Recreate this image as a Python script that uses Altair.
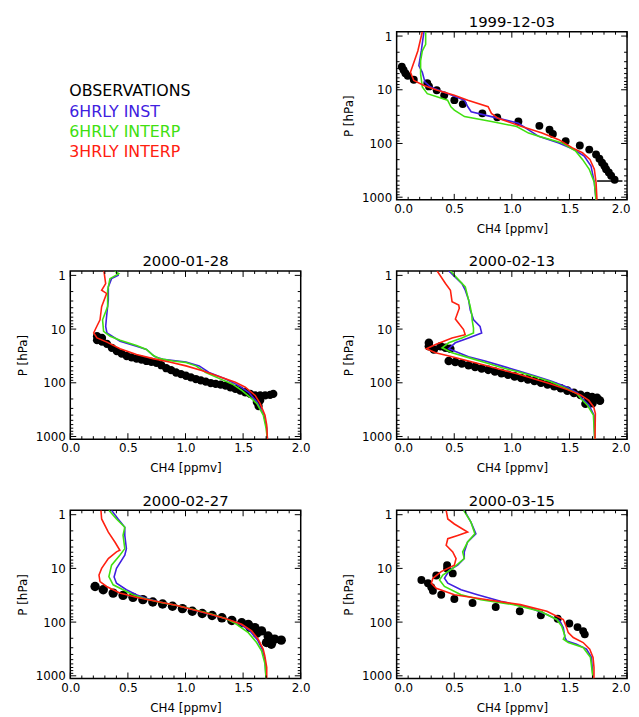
import altair as alt
import pandas as pd

W, H = 233, 170
FONT = "DejaVu Sans"
P_DOMAIN = [0.83, 1120]
X_DOMAIN = [0, 2]
X_MAJOR = [0.0, 0.5, 1.0, 1.5, 2.0]
X_MINOR = [0.1, 0.2, 0.3, 0.4, 0.6, 0.7, 0.8, 0.9, 1.1, 1.2, 1.3, 1.4, 1.6, 1.7, 1.8, 1.9]
Y_MAJOR = [1, 10, 100, 1000]
Y_MINOR = [2, 3, 4, 5, 6, 7, 8, 9, 20, 30, 40, 50, 60, 70, 80, 90,
           200, 300, 400, 500, 600, 700, 800, 900]

TITLES = ["1999-12-03", "2000-01-28", "2000-02-13", "2000-02-27", "2000-03-15"]
LEGEND_LABELS = ["OBSERVATIONS", "6HRLY INST", "6HRLY INTERP", "3HRLY INTERP"]
LEGEND_COLORS = ["#000000", "#4020E0", "#40E010", "#FF2010"]
C_INST, C_I6, C_I3 = "#4020E0", "#40E010", "#FF2010"

# ---------------- panel 1 : 1999-12-03 ----------------
P1_INST_X = [0.237, 0.214, 0.193, 0.223, 0.246, 0.296, 0.442, 0.589, 0.618, 0.647, 0.823, 1.057, 1.145, 1.233, 1.408, 1.540, 1.628, 1.687, 1.716, 1.731]
P1_INST_P = [0.83, 1.89, 3.56, 4.72, 7.20, 8.90, 11.8, 15.6, 20.7, 25.6, 31.6, 42.0, 55.6, 73.7, 97.8, 130, 172, 262, 531, 1120]
P1_I6_X = [0.252, 0.252, 0.223, 0.208, 0.208, 0.223, 0.266, 0.442, 0.471, 0.501, 0.589, 0.823, 1.042, 1.145, 1.233, 1.438, 1.555, 1.613, 1.672, 1.716, 1.731]
P1_I6_P = [0.83, 1.42, 1.89, 2.88, 5.06, 8.90, 11.8, 15.6, 20.7, 23.9, 31.6, 39.1, 48.3, 64.0, 73.7, 97.8, 139, 198, 302, 531, 1120]
P1_I3_X = [0.223, 0.184, 0.135, 0.120, 0.149, 0.237, 0.354, 0.501, 0.618, 0.794, 0.823, 0.881, 1.086, 1.262, 1.408, 1.526, 1.613, 1.678, 1.716, 1.731, 1.739]
P1_I3_P = [0.83, 1.89, 3.82, 4.72, 6.71, 8.29, 10.2, 12.7, 15.6, 20.7, 27.5, 34.0, 48.3, 64.0, 84.9, 121, 149, 198, 302, 531, 1120]
P1_OBS_X = [0.045, 0.060, 0.076, 0.097, 0.149, 0.266, 0.281, 0.348, 0.413, 0.501, 0.574, 0.744, 0.873, 1.057, 1.239, 1.327, 1.356, 1.467, 1.590, 1.672, 1.731, 1.760, 1.783, 1.804, 1.818, 1.842, 1.862, 1.892]
P1_OBS_P = [3.71, 4.27, 4.92, 5.51, 6.52, 7.51, 8.65, 10.2, 12.7, 15.6, 18.5, 27.5, 32.6, 39.1, 47.0, 55.6, 66.8, 91.1, 109, 130, 160, 192, 228, 262, 302, 348, 400, 474]
P1_BAR_X1 = [1.74]
P1_BAR_X2 = [1.96]
P1_BAR_P = [500]

# ---------------- panel 2 : 2000-01-28 ----------------
P2_INST_X = [0.401, 0.415, 0.358, 0.330, 0.330, 0.315, 0.307, 0.318, 0.432, 0.575, 0.661, 0.732, 0.804, 1.004, 1.119, 1.204, 1.348, 1.462, 1.548, 1.620, 1.680, 1.705, 1.711]
P2_INST_P = [0.83, 1.0, 1.15, 1.64, 2.88, 5.83, 8.90, 11.8, 16.8, 20.8, 23.9, 32.6, 36.5, 40.9, 48.4, 64.2, 85.1, 113, 150, 228, 400, 700, 1120]
P2_I6_X = [0.387, 0.421, 0.344, 0.324, 0.324, 0.280, 0.289, 0.346, 0.432, 0.575, 0.661, 0.718, 0.775, 0.890, 1.004, 1.090, 1.176, 1.290, 1.405, 1.491, 1.577, 1.620, 1.675, 1.699, 1.711]
P2_I6_P = [0.83, 0.93, 1.15, 1.89, 3.82, 6.7, 11.0, 13.6, 16.1, 20.2, 23.9, 30.8, 35.5, 39.2, 42.0, 48.4, 64.2, 82.7, 105, 140, 199, 245, 400, 700, 1120]
P2_I3_X = [0.292, 0.307, 0.272, 0.315, 0.272, 0.258, 0.223, 0.203, 0.232, 0.318, 0.432, 0.575, 0.718, 0.861, 1.004, 1.148, 1.290, 1.433, 1.519, 1.605, 1.648, 1.690, 1.705, 1.711]
P2_I3_P = [0.83, 1.42, 1.89, 2.17, 3.82, 6.71, 9.55, 11.8, 14.6, 17.5, 23.2, 29.6, 35.5, 40.9, 48.4, 59.8, 76.0, 98.0, 121, 172, 245, 400, 611, 1120]
P2_OBS_X = [0.232, 0.275, 0.318, 0.360, 0.403, 0.446, 0.489, 0.532, 0.575, 0.618, 0.661, 0.704, 0.747, 0.790, 0.833,
            0.875, 0.918, 0.961, 1.004, 1.047, 1.090, 1.133, 1.176, 1.219, 1.262, 1.305, 1.348, 1.390, 1.433, 1.476,
            1.519, 1.562, 1.605, 1.648, 1.691, 1.734, 1.762, 1.634, 1.648, 1.619, 1.634, 0.232, 0.275]
P2_OBS_P = [16.1, 17.1, 18.8, 22.3, 25.7, 28.7, 31.7, 33.6, 35.5, 37.0, 39.2, 40.9, 42.6, 47.1, 53.5,
            58.2, 64.3, 68.9, 73.9, 79.3, 85.1, 90.1, 95.3, 101, 105, 108, 113, 121, 130, 140,
            150, 161, 172, 172, 172, 168, 161, 204, 213, 228, 271, 13.6, 14.6]

# ---------------- panel 3 : 2000-02-13 ----------------
P3_INST_X = [0.453, 0.567, 0.596, 0.625, 0.639, 0.668, 0.724, 0.738, 0.624, 0.509, 0.452, 0.538, 0.624, 0.767, 0.910, 1.053, 1.196, 1.339, 1.482, 1.568, 1.613, 1.670, 1.713, 1.719]
P3_INST_P = [0.83, 1.42, 1.89, 2.88, 4.40, 6.71, 8.9, 11.8, 14.6, 18.0, 23.2, 27.5, 32.6, 39.2, 48.4, 59.8, 73.9, 92.6, 121, 154, 198, 262, 400, 1120]
P3_I6_X = [0.467, 0.596, 0.639, 0.653, 0.655, 0.667, 0.667, 0.566, 0.452, 0.395, 0.481, 0.624, 0.767, 0.910, 1.053, 1.196, 1.339, 1.482, 1.568, 1.600, 1.656, 1.708, 1.719]
P3_I6_P = [0.83, 1.64, 3.82, 5.43, 6.7, 9.55, 11.8, 14.6, 18.0, 22.3, 27.5, 34.0, 42.1, 52.0, 62.4, 76.0, 95.3, 130, 161, 198, 262, 400, 1120]
P3_I3_X = [0.352, 0.424, 0.467, 0.481, 0.539, 0.544, 0.510, 0.581, 0.595, 0.481, 0.338, 0.258, 0.338, 0.481, 0.624, 0.767, 0.910, 1.053, 1.196, 1.339, 1.482, 1.596, 1.668, 1.711, 1.725, 1.722]
P3_I3_P = [0.83, 1.42, 1.89, 3.09, 3.56, 4.10, 6.5, 10.2, 12.7, 14.6, 19.4, 23.2, 27.5, 32.6, 39.2, 47.1, 57.4, 68.9, 85.1, 105, 134, 168, 213, 282, 374, 1120]
P3_OBS_X = [0.280, 0.323, 0.381, 0.424, 0.466, 0.280,
            0.452, 0.509, 0.566, 0.624, 0.681, 0.738, 0.795, 0.853, 0.910, 0.967, 1.024, 1.081, 1.139, 1.196,
            1.253, 1.310, 1.368, 1.425, 1.482, 1.539, 1.596, 1.654, 1.697, 1.639, 1.740, 1.765, 1.700]
P3_OBS_P = [20.8, 23.9, 20.8, 22.3, 23.2, 18.0,
            39.2, 40.9, 43.8, 47.1, 50.5, 54.2, 57.4, 61.5, 66.1, 70.8, 76.0, 81.6, 86.3, 92.6,
            99.4, 107, 116, 126, 140, 154, 168, 177, 185, 245, 190, 215, 240]

# ---------------- panel 4 : 2000-02-27 ----------------
P4_INST_X = [0.358, 0.415, 0.473, 0.473, 0.487, 0.473, 0.401, 0.380, 0.401, 0.487, 0.573, 0.650, 0.773, 0.916, 1.059, 1.202, 1.345, 1.470, 1.560, 1.625, 1.665, 1.690, 1.699]
P4_INST_P = [0.83, 1.20, 1.71, 2.43, 4.28, 5.69, 10.0, 14.5, 18.9, 25.0, 30.9, 35.6, 42.2, 48.6, 58.0, 69.5, 86.0, 108, 146, 215, 318, 500, 1120]
P4_I6_X = [0.335, 0.401, 0.473, 0.458, 0.473, 0.430, 0.358, 0.335, 0.372, 0.458, 0.544, 0.630, 0.773, 0.916, 1.059, 1.202, 1.345, 1.431, 1.545, 1.617, 1.660, 1.690, 1.699]
P4_I6_P = [0.83, 1.20, 1.71, 2.43, 4.28, 5.69, 8.69, 14.2, 20.2, 25.0, 30.9, 35.6, 42.5, 48.6, 57.5, 68.2, 86.0, 105, 157, 240, 341, 600, 1120]
P4_I3_X = [0.266, 0.272, 0.330, 0.387, 0.430, 0.401, 0.330, 0.272, 0.249, 0.258, 0.315, 0.429, 0.573, 0.773, 0.916, 1.059, 1.202, 1.345, 1.488, 1.574, 1.631, 1.674, 1.688, 1.705, 1.705]
P4_I3_P = [0.83, 1.20, 2.11, 3.23, 4.60, 4.93, 6.55, 10.0, 13.3, 17.6, 21.7, 28.8, 34.6, 42.2, 48.6, 58.4, 70.2, 85.5, 110, 146, 208, 318, 422, 692, 1120]
P4_OBS_X = [0.215, 0.286, 0.372, 0.458, 0.544, 0.630, 0.716, 0.801, 0.887, 0.973, 1.059, 1.145, 1.231, 1.316,
            1.402, 1.488, 1.545, 1.602, 1.660, 1.717, 1.774, 1.831, 1.703, 1.745, 1.560, 1.620]
P4_OBS_P = [21.7, 25.0, 28.8, 31.8, 34.6, 38.2, 42.2, 45.9, 50.7, 56.0, 62.7, 69.2, 75.3, 83.2,
            93.1, 103, 110, 127, 146, 181, 208, 217, 240, 258, 125, 160]

# ---------------- panel 5 : 2000-03-15 ----------------
P5_INST_X = [0.587, 0.645, 0.688, 0.616, 0.587, 0.587, 0.530, 0.458, 0.415, 0.444, 0.559, 0.702, 0.903, 1.160, 1.304, 1.418, 1.447, 1.461, 1.476, 1.562, 1.648, 1.691, 1.705]
P5_INST_P = [0.83, 1.38, 2.27, 3.23, 4.93, 6.55, 8.69, 10.7, 15.3, 18.9, 25.0, 31.0, 41.0, 54.5, 72.3, 95.9, 127, 194, 224, 258, 318, 453, 1120]
P5_I6_X = [0.582, 0.645, 0.679, 0.616, 0.573, 0.587, 0.487, 0.401, 0.372, 0.415, 0.559, 0.731, 1.017, 1.246, 1.390, 1.433, 1.461, 1.447, 1.490, 1.619, 1.682, 1.705]
P5_I6_P = [0.83, 1.38, 2.27, 3.23, 4.93, 6.55, 10.0, 13.3, 16.4, 21.7, 31.0, 38.3, 47.3, 62.8, 89.3, 119, 181, 208, 240, 297, 453, 1120]
P5_I3_X = [0.430, 0.444, 0.501, 0.616, 0.530, 0.444, 0.430, 0.487, 0.516, 0.501, 0.387, 0.315, 0.301, 0.344, 0.501, 0.788, 1.074, 1.304, 1.447, 1.476, 1.490, 1.533, 1.619, 1.676, 1.705, 1.713, 1.713]
P5_I3_P = [0.83, 1.20, 1.49, 2.11, 2.43, 2.80, 3.72, 4.93, 6.55, 8.69, 11.5, 15.3, 18.9, 23.4, 31.0, 38.3, 47.3, 62.8, 89.3, 127, 157, 194, 240, 318, 453, 692, 1120]
P5_OBS_X = [0.215, 0.272, 0.301, 0.315, 0.344, 0.387, 0.438, 0.438, 0.487, 0.501, 0.659, 0.860, 1.069, 1.252, 1.398, 1.499, 1.570, 1.619, 1.633]
P5_OBS_P = [16.4, 18.9, 22.4, 26.1, 13.6, 31.0, 8.69, 10.0, 12.4, 37.2, 44.1, 52.2, 62.8, 74.3, 86.8, 106, 124, 147, 169]


def xscale():
    return alt.Scale(domain=X_DOMAIN, nice=False, zero=False)


def yscale():
    return alt.Scale(type="log", domain=P_DOMAIN, reverse=True, nice=False)


def xaxis(flush):
    if flush:
        return alt.Axis(values=X_MAJOR, format=".1f", title="CH4 [ppmv]",
                        labelPadding=4, titlePadding=9, labelFlush=True, labelFlushOffset=3,
                        labelOverlap=False)
    return alt.Axis(values=X_MAJOR, format=".1f", title="CH4 [ppmv]",
                    labelPadding=4, titlePadding=9, labelFlush=False, labelOverlap=False)


def yaxis():
    return alt.Axis(values=Y_MAJOR, format="d", title="P [hPa]",
                    labelPadding=5, titlePadding=6, labelFlush=False, labelOverlap=False)


def tick_layers(X, Y):
    layers = []
    for vals, ln in [(Y_MAJOR, 6), (Y_MINOR, 3)]:
        df = pd.DataFrame({"v": vals})
        base = alt.Chart(df).mark_rule(color="black", strokeWidth=1)
        layers.append(base.encode(y=Y("v:Q"), x=alt.value(0), x2=alt.value(ln)))
        layers.append(base.encode(y=Y("v:Q"), x=alt.value(W), x2=alt.value(W - ln)))
    for vals, ln in [(X_MAJOR, 6), (X_MINOR, 3)]:
        df = pd.DataFrame({"v": vals})
        base = alt.Chart(df).mark_rule(color="black", strokeWidth=1)
        layers.append(base.encode(x=X("v:Q"), y=alt.value(H), y2=alt.value(H - ln)))
        layers.append(base.encode(x=X("v:Q"), y=alt.value(0), y2=alt.value(ln)))
    return layers


def panel(title, obs_x, obs_p, inst, i6, i3, extra=None, dot=64, flush=False):
    def X(field):
        return alt.X(field, scale=xscale(), axis=xaxis(flush))

    def Y(field):
        return alt.Y(field, scale=yscale(), axis=yaxis())

    def line_layer(xs, ps, color):
        df = pd.DataFrame({"x": xs, "p": ps, "i": list(range(len(xs)))})
        return alt.Chart(df).mark_line(color=color, strokeWidth=1.6, clip=True).encode(
            x=X("x:Q"), y=Y("p:Q"), order="i:Q",
        )

    obs = pd.DataFrame({"x": obs_x, "p": obs_p})
    obs_layer = alt.Chart(obs).mark_circle(size=dot, color="black", opacity=1, clip=True).encode(
        x=X("x:Q"), y=Y("p:Q"),
    )
    layers = [obs_layer]
    if extra is not None:
        d = pd.DataFrame({"x1": extra[0], "x2": extra[1], "p": extra[2]})
        layers.append(alt.Chart(d).mark_rule(color="black", strokeWidth=1.5).encode(
            x=X("x1:Q"), x2="x2:Q", y=Y("p:Q")))
    layers += [line_layer(*inst, C_INST), line_layer(*i6, C_I6), line_layer(*i3, C_I3)]
    layers += tick_layers(X, Y)
    return alt.layer(*layers).properties(
        width=W, height=H,
        title=alt.TitleParams(text=title, fontSize=15, font=FONT, fontWeight="normal",
                              offset=0, anchor="middle", color="black"),
    )


p1 = panel(TITLES[0], P1_OBS_X, P1_OBS_P, (P1_INST_X, P1_INST_P), (P1_I6_X, P1_I6_P), (P1_I3_X, P1_I3_P),
           extra=(P1_BAR_X1, P1_BAR_X2, P1_BAR_P), flush=True)
p2 = panel(TITLES[1], P2_OBS_X, P2_OBS_P, (P2_INST_X, P2_INST_P), (P2_I6_X, P2_I6_P), (P2_I3_X, P2_I3_P), dot=70)
p3 = panel(TITLES[2], P3_OBS_X, P3_OBS_P, (P3_INST_X, P3_INST_P), (P3_I6_X, P3_I6_P), (P3_I3_X, P3_I3_P), dot=75, flush=True)
p4 = panel(TITLES[3], P4_OBS_X, P4_OBS_P, (P4_INST_X, P4_INST_P), (P4_I6_X, P4_I6_P), (P4_I3_X, P4_I3_P), dot=90)
p5 = panel(TITLES[4], P5_OBS_X, P5_OBS_P, (P5_INST_X, P5_INST_P), (P5_I6_X, P5_I6_P), (P5_I3_X, P5_I3_P), flush=True)

# legend: one text layer per entry
LEGEND_Y = [60, 81, 101, 122]
legend_layers = []
for lab, col, yy in zip(LEGEND_LABELS, LEGEND_COLORS, LEGEND_Y):
    legend_layers.append(
        alt.Chart(pd.DataFrame({"label": [lab]})).mark_text(
            align="left", baseline="middle", fontSize=16, font=FONT, color=col
        ).encode(x=alt.value(-1), y=alt.value(yy), text="label:N")
    )
legend = alt.layer(*legend_layers).properties(
    width=W, height=H, view=alt.ViewBackground(stroke="transparent")
)

chart = alt.concat(legend, p1, p2, p3, p4, p5, columns=2,
                   spacing={"row": 18, "column": 30}).configure_view(
    stroke="black", strokeWidth=1.5
).configure_axis(
    labelFont=FONT, titleFont=FONT, labelFontSize=12, titleFontSize=12,
    titleFontWeight="normal", labelColor="black", titleColor="black",
    grid=False, ticks=False, domain=False, tickSize=0,
).configure_title(fontWeight="normal", font=FONT).properties(
    padding={"left": 7, "top": 2, "right": 0, "bottom": 0})

chart.save("out.html", embed_options={"renderer": "svg", "actions": False})
